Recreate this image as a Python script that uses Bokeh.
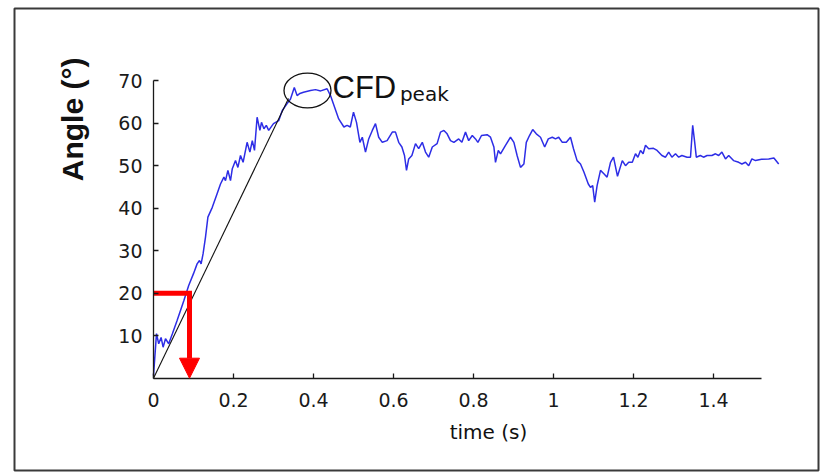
import math
from bokeh.plotting import figure
from bokeh.models import (Range1d, FixedTicker, Label, Arrow, NormalHead, BoxAnnotation)
from bokeh.embed import file_html
from bokeh.resources import INLINE

# ---- data ----
time_s = [0.000, 0.0075, 0.013, 0.019, 0.024, 0.030, 0.038, 0.047, 0.059, 0.076,
          0.088, 0.100, 0.109, 0.115, 0.119, 0.124, 0.130, 0.136, 0.147, 0.159,
          0.1675, 0.176, 0.180, 0.186, 0.1925, 0.197, 0.205, 0.211, 0.2175, 0.224,
          0.234, 0.241, 0.247, 0.2525, 0.259, 0.266, 0.270, 0.276, 0.282, 0.288,
          0.300, 0.313, 0.322, 0.334, 0.3425, 0.352, 0.359, 0.366, 0.375, 0.3925,
          0.405, 0.418, 0.434, 0.4425, 0.451, 0.463, 0.476, 0.484, 0.492, 0.500,
          0.5075, 0.516, 0.522, 0.530, 0.538, 0.547, 0.555, 0.563, 0.572, 0.584,
          0.597, 0.605, 0.613, 0.621, 0.6275, 0.6325, 0.638, 0.646, 0.655, 0.663,
          0.672, 0.680, 0.688, 0.697, 0.709, 0.7175, 0.726, 0.734, 0.7425, 0.751,
          0.763, 0.771, 0.780, 0.788, 0.797, 0.805, 0.811, 0.820, 0.834, 0.8425,
          0.851, 0.855, 0.862, 0.8675, 0.880, 0.8925, 0.901, 0.909, 0.9175, 0.926,
          0.932, 0.940, 0.948, 0.957, 0.9675, 0.978, 0.987, 0.997, 1.005, 1.013,
          1.022, 1.032, 1.0425, 1.050, 1.059, 1.0675, 1.076, 1.087, 1.0925, 1.098,
          1.103, 1.109, 1.1175, 1.126, 1.134, 1.1425, 1.150, 1.160, 1.172, 1.180,
          1.188, 1.197, 1.205, 1.211, 1.2175, 1.224, 1.230, 1.238, 1.250, 1.259,
          1.271, 1.280, 1.288, 1.296, 1.305, 1.313, 1.321, 1.334, 1.3425, 1.348,
          1.353, 1.357, 1.367, 1.375, 1.384, 1.396, 1.405, 1.413, 1.421, 1.430,
          1.438, 1.450, 1.463, 1.471, 1.480, 1.488, 1.496, 1.505, 1.520, 1.538,
          1.551, 1.563]
angle_deg = [0.6, 10.5, 8.1, 9.6, 7.3, 9.3, 8.1, 10.4, 13.6, 18.3,
             21.8, 24.6, 26.9, 27.7, 26.9, 29.3, 33.2, 37.9, 40.2, 43.4,
             45.7, 47.3, 46.5, 48.9, 46.5, 49.3, 51.2, 49.6, 52.4, 50.8,
             55.5, 53.2, 55.9, 53.6, 61.4, 58.3, 60.2, 58.7, 59.5, 58.3,
             59.9, 60.6, 63.0, 64.6, 65.7, 68.4, 66.5, 67.0, 67.3, 67.7,
             67.9, 67.6, 68.1, 66.5, 64.2, 61.0, 59.1, 59.5, 59.1, 62.6,
             60.2, 55.5, 56.7, 53.2, 56.3, 58.3, 59.9, 56.7, 55.5, 55.9,
             57.9, 57.9, 55.5, 54.4, 52.4, 48.9, 51.6, 52.4, 55.2, 54.0,
             55.5, 53.2, 52.0, 54.4, 55.2, 57.9, 58.3, 57.5, 55.9, 55.5,
             56.3, 55.5, 57.9, 55.9, 57.1, 56.3, 55.5, 57.1, 57.3, 56.7,
             54.4, 50.8, 53.6, 52.8, 54.8, 56.7, 55.5, 52.4, 49.6, 50.4,
             55.5, 57.1, 58.5, 57.5, 56.7, 54.4, 56.3, 56.7, 56.3, 56.7,
             55.5, 55.5, 56.7, 54.0, 51.2, 50.4, 48.5, 45.7, 44.9, 45.3,
             41.4, 45.3, 48.9, 48.1, 47.3, 50.8, 52.0, 47.5, 51.2, 50.0,
             50.8, 50.8, 52.8, 52.0, 53.6, 52.8, 54.8, 54.0, 54.1, 53.6,
             52.4, 52.0, 53.2, 52.0, 52.8, 52.0, 52.4, 52.0, 52.0, 59.5,
             55.5, 52.0, 52.4, 52.0, 52.4, 52.4, 52.8, 52.4, 53.2, 51.6,
             52.4, 51.2, 50.8, 50.4, 50.8, 50.0, 51.6, 51.2, 51.5, 51.6,
             51.8, 50.4]

# straight line from origin to the CFD peak region
ramp_t = [0.0, 0.3375]
ramp_angle = [0.0, 65.8]

# CFD peak ellipse (centre / size in data units)
peak_t = [0.385]
peak_angle = [67.7]
peak_w = [0.1175]
peak_h = [8.2]

# red marker: 20 deg -> time
marker_angle = 20
marker_t = 0.09

x_ticks = [0, 0.2, 0.4, 0.6, 0.8, 1.0, 1.2, 1.4]
x_tick_labels = ["0", "0.2", "0.4", "0.6", "0.8", "1", "1.2", "1.4"]
y_ticks = [10, 20, 30, 40, 50, 60, 70]

TICK_FONT = "DejaVu Sans"

# the frame fills the whole canvas; axes sit at t=0 / angle=0
p = figure(width=832, height=476, output_backend="svg", toolbar_location=None,
           x_range=Range1d(-0.3825, 1.6975), y_range=Range1d(-23.13, 88.87),
           min_border=0)
p.background_fill_color = "white"
p.border_fill_color = "white"
p.outline_line_color = None
p.xgrid.visible = False
p.ygrid.visible = False

# axes
for ax in (p.xaxis[0], p.yaxis[0]):
    ax.fixed_location = 0
    ax.major_tick_in = 5
    ax.major_tick_out = 0
    ax.minor_tick_line_color = None
    ax.axis_line_color = "#1a1a1a"
    ax.axis_line_width = 1.3
    ax.major_tick_line_color = "#1a1a1a"
    ax.major_tick_line_width = 1.3
    ax.major_label_text_font = TICK_FONT
    ax.major_label_text_font_size = "19px"
    ax.major_label_text_color = "#1a1a1a"

p.xaxis[0].ticker = FixedTicker(ticks=x_ticks)
p.xaxis[0].major_label_overrides = {t: l for t, l in zip(x_ticks, x_tick_labels)}
p.xaxis[0].bounds = (0, 1.52)
p.xaxis[0].major_label_standoff = 15
p.yaxis[0].ticker = FixedTicker(ticks=y_ticks)
p.yaxis[0].bounds = (0, 70)
p.yaxis[0].major_label_standoff = 11

# data curve
p.line(time_s, angle_deg, line_color="#2d2de6", line_width=1.5)

# straight ramp line
p.line(ramp_t, ramp_angle, line_color="#111111", line_width=1.1)

# peak ellipse
p.ellipse(x=peak_t, y=peak_angle, width=peak_w, height=peak_h,
          fill_color=None, line_color="#111111", line_width=1.3)

# red L marker with arrow
p.line([0, marker_t, marker_t], [marker_angle, marker_angle, marker_angle - 2],
       line_color="#ff0000", line_width=5, line_join="miter")
p.add_layout(Arrow(end=NormalHead(size=20, fill_color="#ff0000", line_color="#ff0000"),
                   x_start=marker_t, y_start=marker_angle, x_end=marker_t, y_end=0,
                   line_color="#ff0000", line_width=5))

# texts
p.add_layout(Label(x=0.4475, y=68.5, text="CFD", text_font="Liberation Sans",
                   text_font_size="31px", text_color="#111111",
                   text_baseline="alphabetic", text_align="left"))
p.add_layout(Label(x=0.616, y=66.9, text="peak", text_font="DejaVu Sans",
                   text_font_size="20px", text_color="#111111",
                   text_baseline="alphabetic", text_align="left"))
p.add_layout(Label(x=-0.2025, y=60.9, text="Angle (°)", text_font="Liberation Sans",
                   text_font_size="30px", text_font_style="bold", text_color="#111111",
                   angle=math.pi / 2, text_baseline="middle", text_align="center"))
p.add_layout(Label(x=0.8375, y=-12.6, text="time (s)", text_font=TICK_FONT,
                   text_font_size="20px", text_color="#111111",
                   text_baseline="alphabetic", text_align="center"))

# outer frame around the figure
p.add_layout(BoxAnnotation(left=-0.3475, right=1.6625, top=87.0, bottom=-21.7,
                           fill_alpha=0, line_color="#3a3a3a", line_alpha=1.0,
                           line_width=2))

open("out.html", "w").write(file_html(p, INLINE))
